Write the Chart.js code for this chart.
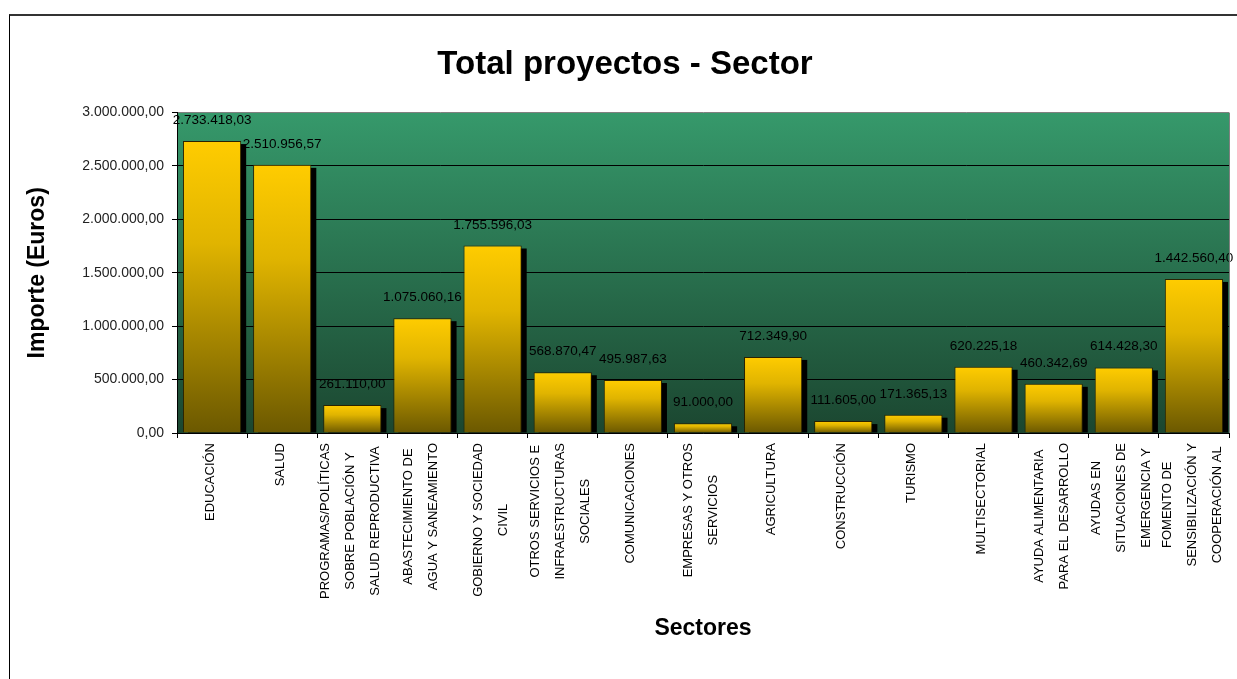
<!DOCTYPE html>
<html>
<head>
<meta charset="utf-8">
<title>Total proyectos - Sector</title>
<script src="https://cdn.jsdelivr.net/npm/chart.js@4.4.1/dist/chart.umd.min.js"></script>
<style>
body { margin: 0; background: #fff; }
#frame {
    position: absolute; left: 9px; top: 14px; width: 1300px; height: 700px;
    border-top: 2px solid #333; border-left: 1px solid #000;
}
#holder { position: absolute; left: 0; top: 0; width: 1237px; height: 679px; }
</style>
</head>
<body>
<div id="frame"></div>
<div id="holder"><canvas id="chart-area"></canvas></div>
<script>
var sectores = [
    ["EDUCACIÓN"],
    ["SALUD"],
    ["PROGRAMAS/POLÍTICAS", "SOBRE POBLACIÓN Y", "SALUD REPRODUCTIVA"],
    ["ABASTECIMIENTO DE", "AGUA Y SANEAMIENTO"],
    ["GOBIERNO Y SOCIEDAD", "CIVIL"],
    ["OTROS SERVICIOS E", "INFRAESTRUCTURAS", "SOCIALES"],
    ["COMUNICACIONES"],
    ["EMPRESAS Y OTROS", "SERVICIOS"],
    ["AGRICULTURA"],
    ["CONSTRUCCIÓN"],
    ["TURISMO"],
    ["MULTISECTORIAL"],
    ["AYUDA ALIMENTARIA", "PARA EL DESARROLLO"],
    ["AYUDAS EN", "SITUACIONES DE", "EMERGENCIA Y"],
    ["FOMENTO DE", "SENSIBILIZACIÓN Y", "COOPERACIÓN AL"]
];
var importes = [
    2733418.03, 2510956.57, 261110.00, 1075060.16, 1755596.03,
    568870.47, 495987.63, 91000.00, 712349.90, 111605.00,
    171365.13, 620225.18, 460342.69, 614428.30, 1442560.40
];
var yMin = 0;
var yMax = 3000000;
var yStep = 500000;

var fuente = "'Liberation Sans', Arial, sans-serif";

function formatEuro(v) {
    var parts = Number(v).toFixed(2).split('.');
    var ent = parts[0].replace(/\B(?=(\d{3})+(?!\d))/g, '.');
    return ent + ',' + parts[1];
}

// fondo verde degradado del area de trazado
var plotBg = {
    id: 'plotBg',
    beforeDraw: function(chart) {
        var a = chart.chartArea, c = chart.ctx;
        var g = c.createLinearGradient(0, a.top, 0, a.bottom);
        g.addColorStop(0, '#36996b');
        g.addColorStop(1, '#1b4630');
        c.save();
        c.fillStyle = g;
        c.fillRect(a.left, a.top, a.right - a.left, a.bottom - a.top);
        c.restore();
    },
    afterDraw: function(chart) {
        var a = chart.chartArea, c = chart.ctx;
        c.save();
        c.strokeStyle = '#808080';
        c.lineWidth = 1;
        c.beginPath();
        c.moveTo(a.right + 0.5, a.top);
        c.lineTo(a.right + 0.5, a.bottom);
        c.stroke();
        c.restore();
    }
};

// sombra negra detras de cada barra
var sombras = {
    id: 'sombras',
    beforeDatasetsDraw: function(chart) {
        var c = chart.ctx, a = chart.chartArea;
        c.save();
        c.beginPath();
        c.rect(a.left, a.top, a.right - a.left, a.bottom - a.top);
        c.clip();
        c.fillStyle = '#000';
        chart.getDatasetMeta(0).data.forEach(function(el) {
            var p = el.getProps(['x', 'y', 'base', 'width'], true);
            c.fillRect(p.x - p.width / 2 + 5, p.y + 3, p.width, p.base - p.y - 3);
        });
        c.restore();
    }
};

// etiquetas de valor encima de las barras
var etiquetas = {
    id: 'etiquetas',
    afterDatasetsDraw: function(chart) {
        var c = chart.ctx;
        c.save();
        c.font = '13.5px ' + fuente;
        c.fillStyle = '#000';
        c.textAlign = 'center';
        c.textBaseline = 'alphabetic';
        chart.getDatasetMeta(0).data.forEach(function(el, i) {
            var p = el.getProps(['x', 'y'], true);
            c.fillText(formatEuro(importes[i]), p.x, p.y - 17);
        });
        c.restore();
    }
};

// rotulos de categoria en vertical: bloque pegado al eje, lineas centradas entre si
var rotulosX = {
    id: 'rotulosX',
    afterDraw: function(chart) {
        var c = chart.ctx, x = chart.scales.x;
        var lh = 25;
        c.save();
        c.font = '13px ' + fuente;
        c.fillStyle = '#000';
        c.textAlign = 'center';
        c.textBaseline = 'middle';
        sectores.forEach(function(lineas, i) {
            var px = x.getPixelForTick(i) - 2;
            var n = lineas.length;
            var w = 0;
            lineas.forEach(function(t) { w = Math.max(w, c.measureText(t).width); });
            lineas.forEach(function(t, j) {
                c.save();
                c.translate(px + (j - (n - 1) / 2) * lh, x.top + 10);
                c.rotate(-Math.PI / 2);
                c.fillText(t, -w / 2, 0);
                c.restore();
            });
        });
        c.restore();
    }
};

var config = {
    type: 'bar',
    data: {
        labels: sectores,
        datasets: [{
            data: importes,
            backgroundColor: function(ctx) {
                var chart = ctx.chart;
                if (!chart.chartArea || !chart.scales.y) return '#ffcc00';
                var y = chart.scales.y;
                var top = y.getPixelForValue(importes[ctx.dataIndex]);
                var bot = y.getPixelForValue(0);
                var g = chart.ctx.createLinearGradient(0, top, 0, bot);
                g.addColorStop(0, '#ffcc00');
                g.addColorStop(0.35, '#e0b400');
                g.addColorStop(1, '#6b5800');
                return g;
            },
            borderColor: '#2a2200',
            borderWidth: 1,
            barPercentage: 0.83,
            categoryPercentage: 1
        }]
    },
    options: {
        responsive: true,
        maintainAspectRatio: false,
        animation: false,
        layout: { padding: { left: 21, right: 8, top: 0, bottom: 0 } },
        plugins: {
            legend: { display: false },
            tooltip: { enabled: false },
            title: {
                display: true,
                text: 'Total proyectos - Sector',
                color: '#000',
                font: { family: fuente, size: 33, weight: 'bold' },
                padding: { top: 45, bottom: 28 }
            }
        },
        scales: {
            x: {
                afterFit: function(s) { s.height = 246; },
                border: { color: '#000' },
                grid: { drawOnChartArea: false, offset: true, tickLength: 5, color: '#000' },
                ticks: { display: false },
                title: {
                    display: true,
                    text: 'Sectores',
                    color: '#000',
                    font: { family: fuente, size: 23, weight: 'bold' },
                    padding: { top: 0, bottom: 37 }
                }
            },
            y: {
                min: yMin,
                max: yMax,
                afterFit: function(s) { s.width = 156; },
                border: { color: '#000' },
                grid: {
                    color: function(ctx) { return ctx.tick && ctx.tick.value === yMax ? '#808080' : '#000'; },
                    tickColor: '#000',
                    tickLength: 5
                },
                ticks: {
                    stepSize: yStep,
                    color: '#222',
                    padding: 8,
                    font: { family: fuente, size: 14 },
                    callback: function(v) { return formatEuro(v); }
                },
                title: {
                    display: true,
                    text: 'Importe (Euros)',
                    color: '#000',
                    font: { family: fuente, size: 23, weight: 'bold' },
                    padding: { top: 3, bottom: 0 }
                }
            }
        }
    },
    plugins: [plotBg, sombras, etiquetas, rotulosX]
};

window.onload = function() {
    var ctx = document.getElementById('chart-area').getContext('2d');
    window.myBar = new Chart(ctx, config);
};
</script>
</body>
</html>
